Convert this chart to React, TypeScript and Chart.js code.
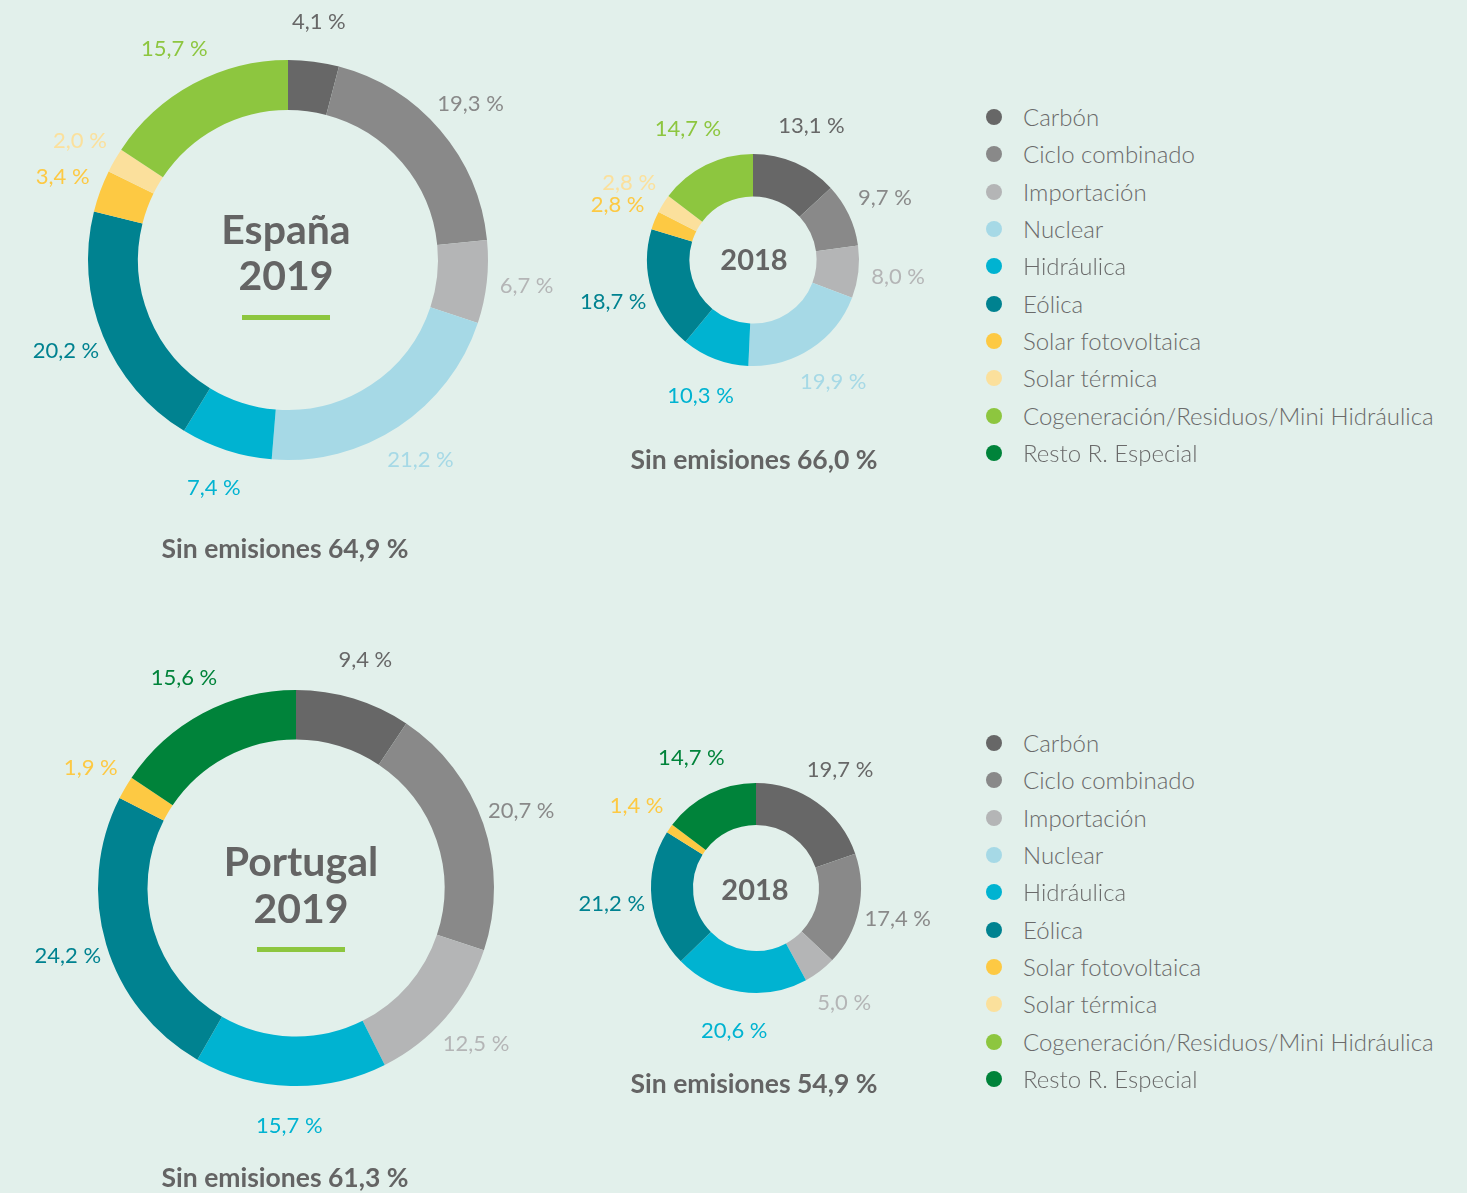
import React, { useEffect, useRef } from "react";
import { Chart, registerables } from "chart.js";
Chart.register(...registerables);

const categories = [
  "Carbón",
  "Ciclo combinado",
  "Importación",
  "Nuclear",
  "Hidráulica",
  "Eólica",
  "Solar fotovoltaica",
  "Solar térmica",
  "Cogeneración/Residuos/Mini Hidráulica",
  "Resto R. Especial",
];
const colors = [
  "#676767",
  "#898989",
  "#b4b5b6",
  "#a6d9e6",
  "#00b3d1",
  "#008290",
  "#fdc943",
  "#fbe09c",
  "#8dc63f",
  "#00833a",
];
const espana2019 = [4.1, 19.3, 6.7, 21.2, 7.4, 20.2, 3.4, 2.0, 15.7, 0];
const espana2018 = [13.1, 9.7, 8.0, 19.9, 10.3, 18.7, 2.8, 2.8, 14.7, 0];
const portugal2019 = [9.4, 20.7, 12.5, 0, 15.7, 24.2, 1.9, 0, 0, 15.6];
const portugal2018 = [19.7, 17.4, 5.0, 0, 20.6, 21.2, 1.4, 0, 0, 14.7];
const sinEmisiones = ["Sin emisiones 64,9 %", "Sin emisiones 66,0 %", "Sin emisiones 61,3 %", "Sin emisiones 54,9 %"];

const BG = "#e2f0eb";
const TEXT = "#646464";
const FONT = "Lato, 'Open Sans', sans-serif";

const fmt = (v: number) => v.toFixed(1).replace(".", ",") + " %";

const labelPlugin = {
  id: "outerLabels",
  afterDatasetsDraw(chart: any, _args: any, opts: any) {
    const ctx = chart.ctx;
    const meta = chart.getDatasetMeta(0);
    const ds = chart.data.datasets[0];
    ctx.save();
    ctx.font = `400 ${opts.fontSize || 20}px ${FONT}`;
    ctx.textAlign = "center";
    ctx.textBaseline = "middle";
    meta.data.forEach((arc: any, i: number) => {
      const v = ds.data[i];
      if (!v) return;
      const p = arc.getProps(["x", "y", "startAngle", "endAngle", "outerRadius"], true);
      const a = (p.startAngle + p.endAngle) / 2;
      const r = p.outerRadius + (opts.offset || 40);
      ctx.fillStyle = colors[i];
      ctx.fillText(fmt(v), p.x + r * Math.cos(a), p.y + r * Math.sin(a));
    });
    ctx.restore();
  },
};

function Donut({ data, cx, cy, R, cutout }: { data: number[]; cx: number; cy: number; R: number; cutout: string }) {
  const ref = useRef<HTMLCanvasElement>(null);
  const P = 100;
  const size = 2 * R + 2 * P;
  useEffect(() => {
    if (!ref.current) return;
    const chart = new Chart(ref.current, {
      type: "doughnut",
      data: {
        labels: categories,
        datasets: [{ data, backgroundColor: colors, borderWidth: 0, hoverOffset: 0, offset: 0 } as any],
      },
      options: {
        responsive: false,
        animation: false,
        cutout,
        layout: { padding: P },
        plugins: {
          legend: { display: false },
          tooltip: { enabled: false },
          outerLabels: { offset: 40, fontSize: 22 },
        } as any,
      },
      plugins: [labelPlugin as any],
    });
    return () => chart.destroy();
  }, []);
  return (
    <canvas
      ref={ref}
      width={size}
      height={size}
      style={{ position: "absolute", left: cx - R - P, top: cy - R - P, width: size, height: size }}
    />
  );
}

function T({ x, y, children, size, weight, color, align }: any) {
  return (
    <div
      style={{
        position: "absolute",
        left: x,
        top: y,
        transform: align === "left" ? "translate(0,-50%)" : "translate(-50%,-50%)",
        whiteSpace: "nowrap",
        fontFamily: FONT,
        fontSize: size,
        fontWeight: weight,
        color: color || TEXT,
        lineHeight: 1,
      }}
    >
      {children}
    </div>
  );
}

function Legend({ top }: { top: number }) {
  const step = 37.33;
  return (
    <>
      {categories.map((c, i) => (
        <React.Fragment key={c}>
          <div
            style={{
              position: "absolute",
              left: 994 - 8,
              top: top + i * step - 8,
              width: 16,
              height: 16,
              borderRadius: "50%",
              background: colors[i],
            }}
          />
          <T x={1023} y={top + i * step} size={24} weight={300} color="#6a6a6a" align="left">
            {c}
          </T>
        </React.Fragment>
      ))}
    </>
  );
}

export default function App() {
  useEffect(() => {
    document.body.style.margin = "0";
    document.body.style.background = BG;
  }, []);
  return (
    <div style={{ position: "relative", width: 1467, height: 1193, background: BG, overflow: "hidden" }}>
      <Donut data={espana2019} cx={288} cy={260} R={200} cutout="75%" />
      <Donut data={espana2018} cx={753} cy={260} R={106} cutout="60%" />
      <Donut data={portugal2019} cx={296} cy={888} R={198} cutout="75%" />
      <Donut data={portugal2018} cx={756} cy={888} R={105} cutout="60%" />

      <T x={286} y={228} size={41} weight={700}>España</T>
      <T x={286} y={274} size={41} weight={700}>2019</T>
      <div style={{ position: "absolute", left: 242, top: 315, width: 88, height: 5, background: "#8dc63f" }} />
      <T x={754} y={258} size={29} weight={700}>2018</T>

      <T x={301} y={860} size={41} weight={700}>Portugal</T>
      <T x={301} y={907} size={41} weight={700}>2019</T>
      <div style={{ position: "absolute", left: 257, top: 947, width: 88, height: 5, background: "#8dc63f" }} />
      <T x={755} y={888} size={29} weight={700}>2018</T>

      <T x={285} y={548} size={26.5} weight={700}>{sinEmisiones[0]}</T>
      <T x={754} y={459} size={26.5} weight={700}>{sinEmisiones[1]}</T>
      <T x={285} y={1177} size={26.5} weight={700}>{sinEmisiones[2]}</T>
      <T x={754} y={1083} size={26.5} weight={700}>{sinEmisiones[3]}</T>

      <Legend top={117} />
      <Legend top={743} />
    </div>
  );
}
